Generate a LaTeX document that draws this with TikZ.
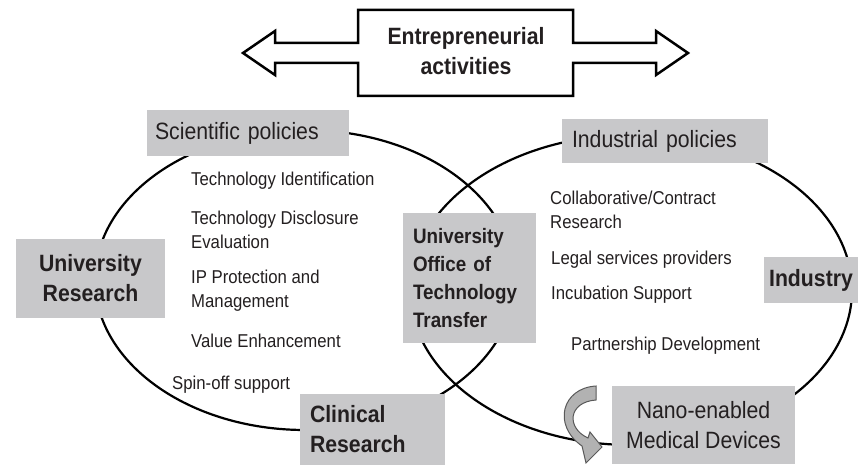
\documentclass[tikz,border=0pt]{standalone}
\usepackage{fontspec}
\setmainfont{Liberation Sans}[FakeStretch=0.9]
\definecolor{boxgray}{RGB}{200,200,202}
\definecolor{ink}{RGB}{35,31,32}
\tikzset{
  graybox/.style={fill=boxgray, text=ink, inner sep=0pt},
  item/.style={anchor=west, align=left, text=ink, inner sep=0pt,
    font=\fontsize{18.6}{24}\selectfont},
  bigreg/.style={font=\fontsize{23.6}{30}\selectfont},
  bigbold/.style={font=\fontsize{23.6}{30}\selectfont\bfseries},
}
\begin{document}
\begin{tikzpicture}[x=1pt, y=-1pt, line join=miter]
\useasboundingbox (0,0) rectangle (862,465);

% the two circles
\draw[line width=2.2pt] (305,280) ellipse [x radius=210pt, y radius=150pt];
\draw[line width=2.2pt] (631,290) ellipse [x radius=221pt, y radius=155pt];

% double arrow on top
\draw[line width=2.5pt] (358,10)--(573,10)--(573,43)--(656,43)--(656,31)--(688,53)
  --(656,75)--(656,63)--(573,63)--(573,96)--(358,96)--(358,63)--(275,63)--(275,75)
  --(243,53)--(275,31)--(275,43)--(358,43)--cycle;
\node[bigbold, text=ink, align=center] (ent) at (466,51) {Entrepreneurial\\activities};

% gray boxes
\node[graybox, bigreg, minimum height=46pt, inner xsep=8pt, text width=186pt, align=left]
  (sci) at (248,133) {Scientific policies};
\node[graybox, bigreg, minimum height=44pt, inner xsep=10pt, text width=186pt, align=left]
  (indpol) at (665,141) {Industrial policies};
\node[graybox, bigbold, minimum width=149pt, minimum height=79pt, align=center]
  (univ) at (90.5,278.5) {University\\Research};
\node[graybox, font=\fontsize{20.9}{28}\selectfont\bfseries, minimum height=130pt,
  inner xsep=10pt, text width=113pt, align=left]
  (ott) at (469.5,278) {University\\Office of\\Technology\\Transfer};
\node[graybox, bigbold, minimum width=94pt, minimum height=46pt, align=center]
  (industry) at (811,280) {Industry};
\node[graybox, bigbold, minimum height=71pt, inner xsep=10pt, text width=125pt, align=left]
  (clin) at (372.5,429) {Clinical\\Research};
\node[graybox, bigreg, minimum width=183pt, minimum height=78pt, align=center]
  (nano) at (703.5,425) {Nano-enabled\\Medical Devices};

% lists
\foreach \n/\x/\y/\txt in {1/191/181/{Technology Identification},
    2/191/229.5/{Technology Disclosure\\Evaluation},
    3/191/291/{IP Protection and\\Management},
    4/191/341/{Value Enhancement},
    5/172/385/{Spin-off support}}
{
  \node[item] (uni\n) at (\x,\y) {\txt};
}
\foreach \n/\x/\y/\txt in {1/550/210/{Collaborative/Contract\\Research},
    2/551/260/{Legal services providers},
    3/551/295/{Incubation Support},
    4/571/346/{Partnership Development}}
{
  \node[item] (ind\n) at (\x,\y) {\txt};
}

% curved arrow
\draw[fill=black!30, draw=black!65, line width=1pt]
  (596,386) .. controls (562,388) and (552,425) .. (582,446)
  -- (586,463) -- (602,447) -- (590,432) -- (588,438)
  .. controls (566,428) and (568,402) .. (596,400) -- cycle;

\end{tikzpicture}
\end{document}
